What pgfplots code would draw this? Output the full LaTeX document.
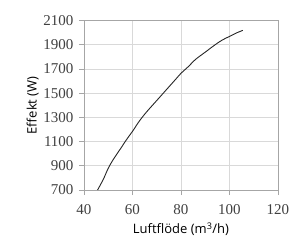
\documentclass[border=0pt]{standalone}
\usepackage{pgfplots}
\pgfplotsset{compat=1.18}
\usepackage{fontspec}
\setmainfont{Liberation Serif}
\newfontfamily\labfont{Open Sans}
\newfontfamily\tickfont{Liberation Serif}
\begin{document}
\begin{tikzpicture}
\useasboundingbox (-84pt,-51pt) rectangle (205pt,190pt);
\begin{axis}[
  at={(0,0)}, anchor=south west,
  scale only axis, width=194pt, height=169.3pt,
  xmin=40, xmax=120, ymin=700, ymax=2100,
  xtick={40,60,...,120}, ytick={700,900,...,2100},
  grid=major, major grid style={gray!30, line width=0.8pt},
  axis line style={gray!70, line width=0.8pt},
  tick style={gray!70, line width=0.8pt},
  tick align=outside, major tick length=5pt,
  xtick pos=bottom, ytick pos=left,
  /pgf/number format/assume math mode=true,
  /pgf/number format/1000 sep={},
  xticklabel style={font=\tickfont\fontsize{15}{17}\selectfont, text=black!75, yshift=-6pt},
  yticklabel style={font=\tickfont\fontsize{15}{17}\selectfont, text=black!75, xshift=-2pt},
  xlabel style={font=\labfont\fontsize{13}{15}\selectfont, yshift=-1pt},
  ylabel style={font=\labfont\fontsize{13}{15}\selectfont, yshift=-2pt},
  xlabel={Luftflöde (m\textsuperscript{3}/h)},
  ylabel={Effekt (W)},
]
\addplot[black!85, line width=0.9pt, smooth] coordinates {
(45.6,700) (48,790) (50,880) (52,950) (55,1040) (58,1130) (60,1185)
(63,1275) (66,1350) (70,1440) (74,1530) (78,1620) (80,1665) (83,1720)
(86,1780) (90,1840) (94,1900) (97,1940) (100,1970) (103,2000) (105.5,2020)};
\end{axis}
\end{tikzpicture}
\end{document}
